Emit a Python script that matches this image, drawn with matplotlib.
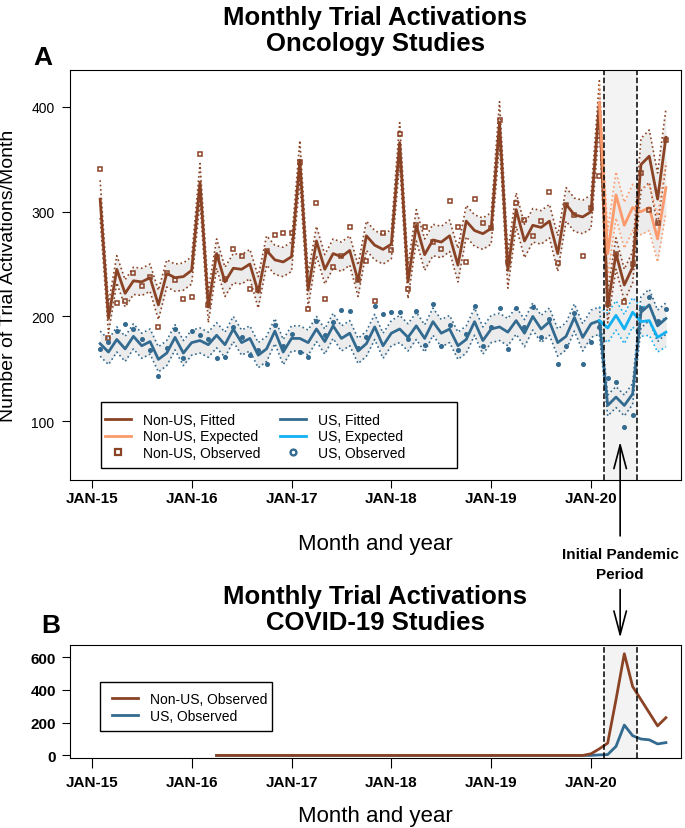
import matplotlib.pyplot as plt
import numpy as np
from matplotlib.lines import Line2D
from matplotlib.patches import Rectangle
from matplotlib.transforms import blended_transform_factory

plt.rcParams['font.family'] = ['Liberation Sans', 'DejaVu Sans']

# months counted from JAN-15 = 0
months = np.arange(1, 70)
tick_pos = [0, 12, 24, 36, 48, 60]
tick_labels = ['JAN-15', 'JAN-16', 'JAN-17', 'JAN-18', 'JAN-19', 'JAN-20']

nonus_fit = [312, 198, 245, 222, 234, 233, 237, 211, 241, 237, 238, 244,
             328, 209, 260, 233, 246, 245, 250, 223, 263, 254, 252, 257,
             349, 225, 272, 245, 260, 257, 263, 234, 277, 268, 264, 269,
             366, 233, 287, 259, 273, 271, 277, 249, 291, 282, 279, 284,
             385, 244, 302, 272, 287, 285, 291, 260, 307, 297, 295, 300,
             404, 209, 260, 230, 247, 345, 353, 312, 371]
nonus_hw = [18, 14, 13, 13, 13, 13, 13, 14, 13, 13, 13, 13,
            18, 15, 14, 14, 14, 14, 14, 15, 14, 14, 14, 14,
            19, 16, 14, 14, 14, 14, 14, 15, 14, 14, 14, 14,
            19, 16, 15, 15, 15, 15, 15, 16, 15, 15, 15, 15,
            20, 17, 16, 16, 16, 16, 16, 17, 16, 16, 16, 16,
            21, 15, 15, 15, 15, 25, 25, 25, 27]
nonus_obs = [341, 179, 213, 215, 241, 229, 238, 190, 241, 235, 217, 219,
             355, 211, 257, 236, 264, 258, 226, 225, 262, 278, 280, 280,
             347, 207, 308, 217, 247, 258, 285, 235, 253, 215, 280, 263,
             374, 226, 287, 285, 271, 264, 310, 285, 252, 312, 289, 284,
             388, 252, 308, 292, 277, 291, 319, 251, 306, 297, 258, 304,
             334, 212, 260, 214, 250, 337, 302, 289, 368]

us_fit = [174, 166, 178, 169, 181, 172, 176, 159, 165, 180, 165, 175,
          177, 173, 182, 173, 188, 175, 179, 163, 169, 186, 166, 179,
          179, 175, 188, 176, 191, 179, 184, 167, 174, 190, 172, 184,
          188, 180, 191, 179, 195, 184, 188, 172, 178, 195, 177, 188,
          190, 185, 196, 184, 200, 188, 195, 175, 181, 199, 180, 193,
          196, 115, 123, 115, 126, 204, 211, 191, 198]
us_hw = [12, 12, 12, 12, 12, 12, 12, 12, 12, 12, 12, 12,
         12, 12, 12, 12, 12, 12, 12, 12, 12, 12, 12, 12,
         12, 12, 12, 12, 12, 12, 12, 12, 12, 12, 12, 12,
         13, 13, 13, 13, 13, 13, 13, 13, 13, 13, 13, 13,
         13, 13, 13, 13, 13, 13, 13, 13, 13, 13, 13, 13,
         13, 10, 10, 10, 10, 15, 15, 15, 15]
us_obs = [169, 176, 186, 193, 188, 178, 168, 143, 170, 188, 160, 186,
          182, 178, 160, 161, 190, 180, 163, 168, 155, 192, 172, 183,
          166, 161, 196, 182, 195, 206, 205, 170, 180, 210, 202, 204,
          204, 178, 205, 173, 212, 172, 192, 168, 183, 210, 172, 190,
          208, 169, 208, 190, 209, 180, 198, 155, 172, 203, 155, 176,
          190, 141, 137, 94, 106, 208, 219, 196, 207]

# counterfactual (no pandemic) from FEB-20 onwards
exp_months = np.arange(61, 70)
nonus_exp = [404, 260, 316, 287, 304, 300, 304, 274, 323]
nonus_exp_hw = [18, 22, 22, 22, 22, 22, 22, 22, 24]
us_exp = [196, 189, 201, 188, 204, 195, 196, 180, 185]
us_exp_hw = [13, 14, 14, 14, 14, 14, 14, 14, 14]

# COVID-19 studies
covid_months = np.arange(15, 70)
covid_nonus = [0] * 45 + [10, 40, 75, 340, 620, 420, 340, 260, 180, 230]
covid_us = [0] * 45 + [0, 3, 5, 55, 185, 120, 100, 95, 70, 78]

pandemic = (61.5, 65.5)

c_nonus = '#8b4326'
c_nonus_exp = '#fb9a6c'
c_us = '#336a90'
c_us_exp = '#13b1f2'
band = '#ececec'

fig = plt.figure(figsize=(6.85, 8.29), dpi=100)
ax1 = fig.add_axes([0.102, 0.420, 0.892, 0.494])
ax2 = fig.add_axes([0.102, 0.0844, 0.892, 0.1363])


def fitted(ax, x, y, hw, color, lw=2.0):
    y = np.array(y, dtype=float)
    hw = np.array(hw, dtype=float)
    ax.fill_between(x, y - hw, y + hw, color=band, lw=0, zorder=1)
    ax.plot(x, y - hw, ':', color=color, lw=1.2, zorder=2)
    ax.plot(x, y + hw, ':', color=color, lw=1.2, zorder=2)
    ax.plot(x, y, '-', color=color, lw=lw, zorder=3)


# panel A
ax1.axvspan(*pandemic, color='#f3f3f3', lw=0, zorder=0)
for xv in pandemic:
    ax1.axvline(xv, ls='--', color='black', lw=1.1, zorder=5)

fitted(ax1, months, us_fit, us_hw, c_us)
fitted(ax1, exp_months, us_exp, us_exp_hw, c_us_exp)
fitted(ax1, months, nonus_fit, nonus_hw, c_nonus)
fitted(ax1, exp_months, nonus_exp, nonus_exp_hw, c_nonus_exp)
ax1.plot(months, nonus_obs, 's', ms=3.2, mfc='none', mec=c_nonus, mew=1.1, zorder=4)
ax1.plot(months, us_obs, 'o', ms=2.6, color=c_us, zorder=4)

ax1.set_xlim(-2.64, 70.8)
ax1.set_ylim(44, 435)
ax1.set_yticks([100, 200, 300, 400])
ax1.set_xticks(tick_pos)
ax1.set_xticklabels(tick_labels, fontweight='bold')
ax1.tick_params(axis='x', labelsize=11, length=6, pad=2)
ax1.tick_params(axis='y', labelsize=10, length=6, pad=5)
ax1.set_ylabel('Number of Trial Activations/Month', fontsize=14)
ax1.yaxis.set_label_coords(-0.087, 0.5)
ax1.set_xlabel('Month and year', fontsize=16, labelpad=20)
ax1.set_title('Monthly Trial Activations\nOncology Studies', fontsize=18.5,
              fontweight='bold', pad=14.5, linespacing=1.1)
fig.text(0.062, 0.93, 'A', fontsize=19, fontweight='bold', ha='center', va='center')

handles = [Line2D([], [], color=c_nonus, lw=2),
           Line2D([], [], color=c_nonus_exp, lw=2),
           Line2D([], [], ls='none', marker='s', ms=4.5, mfc='none', mec=c_nonus, mew=1.6),
           Line2D([], [], color=c_us, lw=2),
           Line2D([], [], color=c_us_exp, lw=2),
           Line2D([], [], ls='none', marker='o', ms=4.2, mfc='none', mec=c_us, mew=1.7)]
labels = ['Non-US, Fitted', 'Non-US, Expected', 'Non-US, Observed',
          'US, Fitted', 'US, Expected', 'US, Observed']
ax1.add_patch(Rectangle((0.0502, 0.0293), 0.583, 0.161, transform=ax1.transAxes,
                        facecolor='white', edgecolor='black', lw=1.0, zorder=9))
leg = ax1.legend(handles, labels, ncol=2, loc='upper left', bbox_to_anchor=(0.057, 0.164),
                 frameon=False, borderaxespad=0, borderpad=0, fontsize=10,
                 handlelength=1.87, handletextpad=0.86, columnspacing=1.44, labelspacing=0.2)
leg.set_zorder(10)

# arrows and note
xc = 63.5
tr1 = blended_transform_factory(ax1.transData, fig.transFigure)
arrow = dict(arrowstyle='->,head_length=1.7,head_width=0.45', lw=1.2, color='black')
ax1.annotate('', xy=(xc, 83), xycoords='data', xytext=(xc, 0.349),
             textcoords=('data', 'figure fraction'), annotation_clip=False, arrowprops=arrow)
ax1.text(xc, 0.319, 'Initial Pandemic\nPeriod', transform=tr1, ha='center', va='center',
         fontsize=11, fontweight='bold', linespacing=1.55)
ax1.annotate('', xy=(xc, 0.226), xycoords=('data', 'figure fraction'), xytext=(xc, 0.291),
             textcoords=('data', 'figure fraction'), annotation_clip=False, arrowprops=arrow)

# panel B
ax2.axvspan(*pandemic, color='#f3f3f3', lw=0, zorder=0)
for xv in pandemic:
    ax2.axvline(xv, ls='--', color='black', lw=1.1, zorder=5)
ax2.plot(covid_months, covid_us, color=c_us, lw=2.0, zorder=3)
ax2.plot(covid_months, covid_nonus, color=c_nonus, lw=2.0, zorder=4)
ax2.set_xlim(-2.64, 70.8)
ax2.set_ylim(-16, 673)
ax2.set_yticks([0, 200, 400, 600])
ax2.set_xticks(tick_pos)
ax2.set_xticklabels(tick_labels, fontweight='bold')
for lab in ax2.get_yticklabels():
    lab.set_fontweight('bold')
ax2.tick_params(axis='x', labelsize=11, length=7, pad=5)
ax2.tick_params(axis='y', labelsize=11, length=6, pad=4)
ax2.set_xlabel('Month and year', fontsize=16, labelpad=12)
ax2.set_title('Monthly Trial Activations\nCOVID-19 Studies', fontsize=18.5,
              fontweight='bold', pad=11.5, linespacing=1.1)
fig.text(0.0745, 0.245, 'B', fontsize=19, fontweight='bold', ha='center', va='center')

h2 = [Line2D([], [], color=c_nonus, lw=2), Line2D([], [], color=c_us, lw=2)]
ax2.add_patch(Rectangle((0.049, 0.242), 0.281, 0.433, transform=ax2.transAxes,
                        facecolor='white', edgecolor='black', lw=1.0, zorder=9))
leg2 = ax2.legend(h2, ['Non-US, Observed', 'US, Observed'], loc='upper left',
                  bbox_to_anchor=(0.0687, 0.585), frameon=False, borderaxespad=0,
                  borderpad=0, fontsize=10, handlelength=1.87, handletextpad=0.86,
                  labelspacing=0.2)
leg2.set_zorder(10)

fig.savefig('out.png', dpi=100)
